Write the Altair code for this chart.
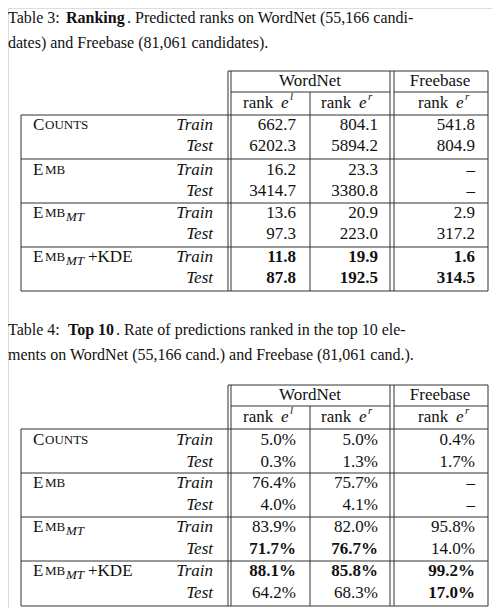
import pandas as pd
import altair as alt

# table contents
groups = ["COUNTS", "EMB", "EMB_MT", "EMB_MT+KDE"]
splits = ["Train", "Test"]
rank_vals = [
    ["662.7", "804.1", "541.8"], ["6202.3", "5894.2", "804.9"],
    ["16.2", "23.3", "–"], ["3414.7", "3380.8", "–"],
    ["13.6", "20.9", "2.9"], ["97.3", "223.0", "317.2"],
    ["11.8", "19.9", "1.6"], ["87.8", "192.5", "314.5"],
]
rank_bold = [[0, 0, 0], [0, 0, 0], [0, 0, 0], [0, 0, 0],
             [0, 0, 0], [0, 0, 0], [1, 1, 1], [1, 1, 1]]
top_vals = [
    ["5.0%", "5.0%", "0.4%"], ["0.3%", "1.3%", "1.7%"],
    ["76.4%", "75.7%", "–"], ["4.0%", "4.1%", "–"],
    ["83.9%", "82.0%", "95.8%"], ["71.7%", "76.7%", "14.0%"],
    ["88.1%", "85.8%", "99.2%"], ["64.2%", "68.3%", "17.0%"],
]
top_bold = [[0, 0, 0], [0, 0, 0], [0, 0, 0], [0, 0, 0],
            [0, 0, 0], [1, 1, 0], [1, 1, 1], [0, 0, 1]]

FONT = "Liberation Serif"
texts = []
rules = []


def t(x, y, s, size=17, weight="normal", style="normal", align="left"):
    texts.append(dict(x=x, y=y, text=s, size=size, weight=weight, style=style, align=align))


def hline(x, x2, y):
    rules.append(dict(x=x, x2=x2, y=y, y2=y))


def vline(x, y, y2):
    rules.append(dict(x=x, x2=x, y=y, y2=y2))


def group_label(g, y):
    t(33, y, "E" if g != "COUNTS" else "C")
    t(45, y, "MB" if g != "COUNTS" else "OUNTS", size=13)
    if g.startswith("EMB_MT"):
        t(66, y + 4, "MT", size=13, style="italic")
    if g.endswith("KDE"):
        t(88, y, "+KDE")


def table(top, row_ys, sep_ys, bottom, vals, bold):
    wn_y, sub_y, rk_y, head_y = top + 10, top + 21, top + 32, top + 44
    hline(228, 488, top)
    hline(231, 390, sub_y)
    hline(394, 488, sub_y)
    hline(21, 488, head_y)
    for sy in sep_ys:
        hline(21, 488, sy)
    hline(21, 488, bottom)
    vline(228, top, bottom)
    vline(231, top, bottom)
    vline(390, top, bottom)
    vline(394, top, bottom)
    vline(488, top, bottom)
    vline(21, head_y, bottom)
    vline(310, sub_y, bottom)
    t(310, wn_y, "WordNet", align="center")
    t(440, wn_y, "Freebase", align="center")
    for rx, sup in [(243, "l"), (321, "r"), (418, "r")]:
        t(rx, rk_y, "rank")
        t(rx + 38, rk_y, "e", style="italic")
        t(rx + 47, rk_y - 6, sup, size=11, style="italic")
    for i, ry in enumerate(row_ys):
        if i % 2 == 0:
            group_label(groups[i // 2], ry)
        t(213, ry, splits[i % 2], style="italic", align="right")
        for j, cx in enumerate([296, 378, 475]):
            t(cx, ry, vals[i][j], weight="bold" if bold[i][j] else "normal", align="right")


# captions
t(8, 18, "Table 3:", size=16)
t(66, 18, "Ranking", size=16, weight="bold")
t(127, 18, ". Predicted ranks on WordNet (55,166 candi-", size=16)
t(8, 43, "dates) and Freebase (81,061 candidates).", size=16)
t(8, 330, "Table 4:", size=16)
t(68, 330, "Top 10", size=16, weight="bold")
t(116, 330, ". Rate of predictions ranked in the top 10 ele-", size=16)
t(8, 355, "ments on WordNet (55,166 cand.) and Freebase (81,061 cand.).", size=16)

table(71, [125, 146, 170, 191, 213, 234, 257, 278], [159, 203, 247], 291, rank_vals, rank_bold)
table(385, [440, 462, 483, 505, 527, 549, 571, 593], [473, 517, 561], 606, top_vals, top_bold)

tdf = pd.DataFrame(texts)
rdf = pd.DataFrame(rules)

xs = alt.Scale(domain=[8, 492], nice=False, zero=False)
ys = alt.Scale(domain=[8, 608], nice=False, zero=False, reverse=True)

layers = [
    alt.Chart(rdf).mark_rule(color="#333", strokeWidth=1).encode(
        x=alt.X("x:Q", scale=xs, axis=None), x2="x2:Q",
        y=alt.Y("y:Q", scale=ys, axis=None), y2="y2:Q")
]
for (w, s, a), sub in tdf.groupby(["weight", "style", "align"]):
    layers.append(
        alt.Chart(sub).mark_text(font=FONT, fontWeight=w, fontStyle=s, align=a,
                                 baseline="middle", color="#111").encode(
            x=alt.X("x:Q", scale=xs, axis=None),
            y=alt.Y("y:Q", scale=ys, axis=None),
            text="text:N",
            size=alt.Size("size:Q", scale=None, legend=None)))

chart = alt.layer(*layers).properties(
    width=484, height=600, padding=0, autosize="none"
).configure_view(stroke=None).configure(background="white")

chart.save("out.html", embed_options={"renderer": "svg", "actions": False})
